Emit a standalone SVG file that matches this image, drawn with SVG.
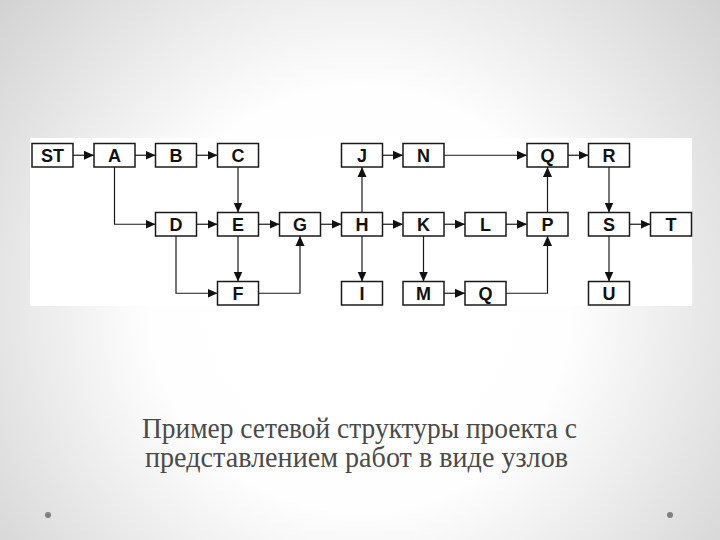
<svg xmlns="http://www.w3.org/2000/svg" width="720" height="540" viewBox="0 0 720 540">
<defs>
<radialGradient id="bg" gradientUnits="userSpaceOnUse" cx="360" cy="300" r="470">
<stop offset="0" stop-color="#ffffff"/>
<stop offset="0.45" stop-color="#fefefe"/>
<stop offset="1" stop-color="#d2d2d2"/>
</radialGradient>
<marker id="ah" markerWidth="10" markerHeight="10" refX="10" refY="5" orient="auto" markerUnits="userSpaceOnUse">
<path d="M0,0.5 L10,5 L0,9.5 Z" fill="#111"/>
</marker>
<style>
.box{fill:#fff;stroke:#1a1a1a;stroke-width:1.5}
.lbl{font-family:"Liberation Sans",Arial,sans-serif;font-weight:bold;font-size:18px;fill:#111;text-anchor:middle}
.edge{fill:none;stroke:#1a1a1a;stroke-width:1.2;marker-end:url(#ah)}
.cap{font-family:"Liberation Serif","Times New Roman",serif;font-size:29px;fill:#4a4a4a}
</style>
</defs>
<rect width="720" height="540" fill="url(#bg)"/>
<rect x="30" y="138" width="662" height="168" fill="#fff"/>

<g id="connectors">
<path class="edge" d="M73,155.25 H94"/>
<path class="edge" d="M135,155.25 H155.5"/>
<path class="edge" d="M196.5,155.25 H217.5"/>
<path class="edge" d="M114.5,167 V224.25 H155.5"/>
<path class="edge" d="M238,167 V212.5"/>
<path class="edge" d="M196.5,224.25 H217.5"/>
<path class="edge" d="M258.5,224.25 H279.5"/>
<path class="edge" d="M320.5,224.25 H341.5"/>
<path class="edge" d="M238,236 V281.5"/>
<path class="edge" d="M176,236 V293.25 H217.5"/>
<path class="edge" d="M258.5,293.25 H300 V236"/>
<path class="edge" d="M362,212.5 V167"/>
<path class="edge" d="M382.5,224.25 H403"/>
<path class="edge" d="M362,236 V281.5"/>
<path class="edge" d="M382.5,155.25 H403"/>
<path class="edge" d="M444,155.25 H527"/>
<path class="edge" d="M444,224.25 H465"/>
<path class="edge" d="M506,224.25 H527"/>
<path class="edge" d="M423.5,236 V281.5"/>
<path class="edge" d="M444,293.25 H465"/>
<path class="edge" d="M506,293.25 H547.5 V236"/>
<path class="edge" d="M547.5,212.5 V167"/>
<path class="edge" d="M568,155.25 H588.5"/>
<path class="edge" d="M609,167 V212.5"/>
<path class="edge" d="M629.5,224.25 H650.5"/>
<path class="edge" d="M609,236 V281.5"/>
</g>

<g id="ST"><rect class="box" x="32" y="143.5" width="41" height="23.5"/><text class="lbl" x="52.5" y="161.7">ST</text></g>
<g id="A"><rect class="box" x="94" y="143.5" width="41" height="23.5"/><text class="lbl" x="114.5" y="161.7">A</text></g>
<g id="B"><rect class="box" x="155.5" y="143.5" width="41" height="23.5"/><text class="lbl" x="176" y="161.7">B</text></g>
<g id="C"><rect class="box" x="217.5" y="143.5" width="41" height="23.5"/><text class="lbl" x="238" y="161.7">C</text></g>
<g id="J"><rect class="box" x="341.5" y="143.5" width="41" height="23.5"/><text class="lbl" x="362" y="161.7">J</text></g>
<g id="N"><rect class="box" x="403" y="143.5" width="41" height="23.5"/><text class="lbl" x="423.5" y="161.7">N</text></g>
<g id="Q1"><rect class="box" x="527" y="143.5" width="41" height="23.5"/><text class="lbl" x="547.5" y="161.7">Q</text></g>
<g id="R"><rect class="box" x="588.5" y="143.5" width="41" height="23.5"/><text class="lbl" x="609" y="161.7">R</text></g>

<g id="D"><rect class="box" x="155.5" y="212.5" width="41" height="23.5"/><text class="lbl" x="176" y="230.7">D</text></g>
<g id="E"><rect class="box" x="217.5" y="212.5" width="41" height="23.5"/><text class="lbl" x="238" y="230.7">E</text></g>
<g id="G"><rect class="box" x="279.5" y="212.5" width="41" height="23.5"/><text class="lbl" x="300" y="230.7">G</text></g>
<g id="H"><rect class="box" x="341.5" y="212.5" width="41" height="23.5"/><text class="lbl" x="362" y="230.7">H</text></g>
<g id="K"><rect class="box" x="403" y="212.5" width="41" height="23.5"/><text class="lbl" x="423.5" y="230.7">K</text></g>
<g id="L"><rect class="box" x="465" y="212.5" width="41" height="23.5"/><text class="lbl" x="485.5" y="230.7">L</text></g>
<g id="P"><rect class="box" x="527" y="212.5" width="41" height="23.5"/><text class="lbl" x="547.5" y="230.7">P</text></g>
<g id="S"><rect class="box" x="588.5" y="212.5" width="41" height="23.5"/><text class="lbl" x="609" y="230.7">S</text></g>
<g id="T"><rect class="box" x="650.5" y="212.5" width="41" height="23.5"/><text class="lbl" x="671" y="230.7">T</text></g>

<g id="F"><rect class="box" x="217.5" y="281.5" width="41" height="23.5"/><text class="lbl" x="238" y="299.7">F</text></g>
<g id="I"><rect class="box" x="341.5" y="281.5" width="41" height="23.5"/><text class="lbl" x="362" y="299.7">I</text></g>
<g id="M"><rect class="box" x="403" y="281.5" width="41" height="23.5"/><text class="lbl" x="423.5" y="299.7">M</text></g>
<g id="Q2"><rect class="box" x="465" y="281.5" width="41" height="23.5"/><text class="lbl" x="485.5" y="299.7">Q</text></g>
<g id="U"><rect class="box" x="588.5" y="281.5" width="41" height="23.5"/><text class="lbl" x="609" y="299.7">U</text></g>

<text class="cap" x="142" y="438" textLength="435" lengthAdjust="spacingAndGlyphs">Пример сетевой структуры проекта с</text>
<text class="cap" x="145" y="467" textLength="423" lengthAdjust="spacingAndGlyphs">представлением работ в виде узлов</text>

<circle cx="48" cy="515" r="3" fill="#808080"/>
<circle cx="670" cy="515" r="3" fill="#808080"/>
</svg>
